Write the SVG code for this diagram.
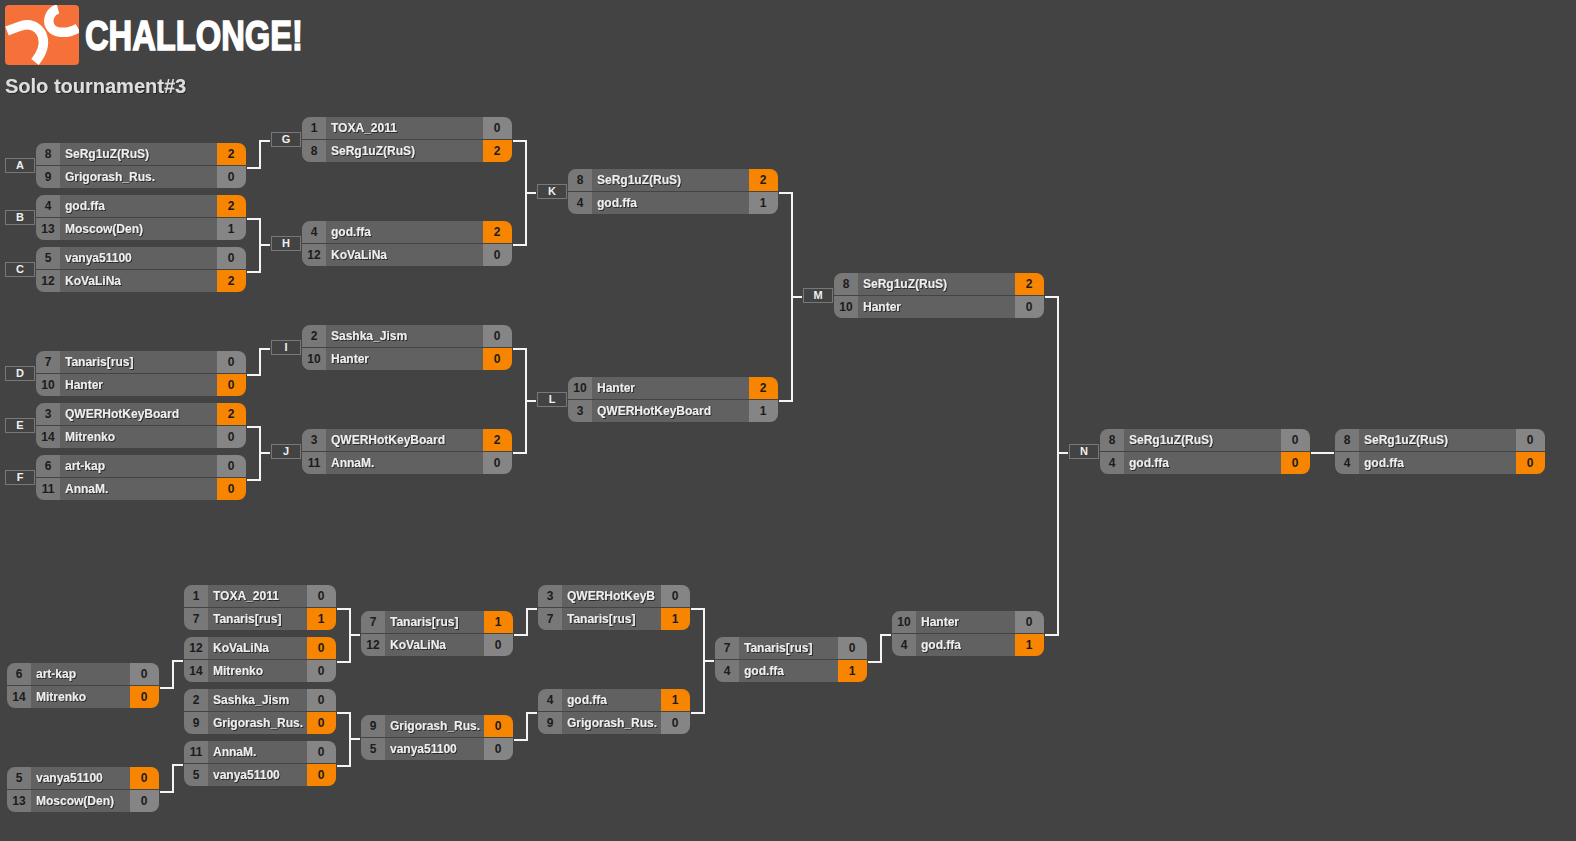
<svg xmlns="http://www.w3.org/2000/svg" width="1576" height="841" viewBox="0 0 1576 841">
<style>
text{font-family:"Liberation Sans",Arial,sans-serif;font-weight:700;font-size:12px}
.seed{text-anchor:middle;fill:#1c1c1c}
.name{fill:#eee;filter:url(#sh)}
.score{text-anchor:middle;fill:#1c1c1c}
.w{fill:#f78500}
.l{fill:#858585}
.lab{fill:none;stroke:#787878;stroke-width:1}
.labt{text-anchor:middle;fill:#f0f0f0;font-size:11px}
#connectors path{fill:none;stroke:#f4f4f4;stroke-width:2}
#logotype{font-size:43px;fill:#fff;stroke:#fff;stroke-width:1.6}
</style>
<defs>
<filter id="sh" x="-5%" y="-20%" width="110%" height="150%"><feDropShadow dx="1" dy="1" stdDeviation="0.4" flood-color="#222" flood-opacity="0.9"/></filter>
<clipPath id="logoClip"><rect x="5" y="5" width="74" height="60" rx="4"/></clipPath>
<g id="big"><path fill="#616161" d="M24 0H202V45H24Z"/><path fill="#787878" d="M8 0H24V22H0V8A8 8 0 0 1 8 0ZM0 23H24V45H8A8 8 0 0 1 0 37Z"/><rect x="0" y="22" width="210" height="1" fill="#444"/></g>
<path id="bigT" d="M181 0H202A8 8 0 0 1 210 8V22H181Z"/>
<path id="bigB" d="M181 23H210V37A8 8 0 0 1 202 45H181Z"/>
<g id="small"><path fill="#616161" d="M24 0H144V45H24Z"/><path fill="#787878" d="M8 0H24V22H0V8A8 8 0 0 1 8 0ZM0 23H24V45H8A8 8 0 0 1 0 37Z"/><rect x="0" y="22" width="152" height="1" fill="#444"/></g>
<path id="smallT" d="M123 0H144A8 8 0 0 1 152 8V22H123Z"/>
<path id="smallB" d="M123 23H152V37A8 8 0 0 1 144 45H123Z"/>
</defs>
<rect width="1576" height="841" fill="#434343"/>
<g id="logo">
<rect x="5" y="5" width="74" height="60" rx="4" fill="#f6703a"/>
<g clip-path="url(#logoClip)" fill="none" stroke="#fff" stroke-width="9.5">
<path d="M7 31C17 27 24 24 30 25C41 27 51 42 35 62"/>
<path d="M58 9C50 11 47 20 50 26C53 33 66 35 78 28"/>
</g>
<text id="logotype" x="85" y="50" textLength="218" lengthAdjust="spacingAndGlyphs">CHALLONGE!</text>
</g>
<text id="title" x="5" y="93" style="font-size:20px;fill:#ddd;filter:url(#sh)">Solo tournament#3</text>
<g id="connectors">
<path d="M247 168H260V141H270"/>
<path d="M247 219H260V272H247M260 245H270"/>
<path d="M247 375H260V349H270"/>
<path d="M247 427H260V480H247M260 453H270"/>
<path d="M513 141H526V245H513M526 193H536"/>
<path d="M513 349H526V453H513M526 401H536"/>
<path d="M779 193H792V401H779M792 297H802"/>
<path d="M1045 297H1058V635H1045M1058 453H1068"/>
<path d="M1311 453H1334"/>
<path d="M160 688H173V661H183"/>
<path d="M160 792H173V765H183"/>
<path d="M337 609H350V662H337M350 635H360"/>
<path d="M337 713H350V766H337M350 739H360"/>
<path d="M514 635H527V609H537"/>
<path d="M514 740H527V713H537"/>
<path d="M691 609H704V713H691M704 661H714"/>
<path d="M868 662H881V635H891"/>
</g>
<g id="match-A" transform="translate(36,143)"><rect class="lab" x="-30.5" y="15.5" width="29" height="14"/><text class="labt" x="-16" y="26">A</text><use href="#big"/><use href="#bigT" class="w"/><use href="#bigB" class="l"/><text class="seed" x="12" y="15">8</text><text class="name" x="29" y="15">SeRg1uZ(RuS)</text><text class="score" x="195" y="15">2</text><text class="seed" x="12" y="38">9</text><text class="name" x="29" y="38">Grigorash_Rus.</text><text class="score" x="195" y="38">0</text></g>
<g id="match-B" transform="translate(36,195)"><rect class="lab" x="-30.5" y="15.5" width="29" height="14"/><text class="labt" x="-16" y="26">B</text><use href="#big"/><use href="#bigT" class="w"/><use href="#bigB" class="l"/><text class="seed" x="12" y="15">4</text><text class="name" x="29" y="15">god.ffa</text><text class="score" x="195" y="15">2</text><text class="seed" x="12" y="38">13</text><text class="name" x="29" y="38">Moscow(Den)</text><text class="score" x="195" y="38">1</text></g>
<g id="match-C" transform="translate(36,247)"><rect class="lab" x="-30.5" y="15.5" width="29" height="14"/><text class="labt" x="-16" y="26">C</text><use href="#big"/><use href="#bigT" class="l"/><use href="#bigB" class="w"/><text class="seed" x="12" y="15">5</text><text class="name" x="29" y="15">vanya51100</text><text class="score" x="195" y="15">0</text><text class="seed" x="12" y="38">12</text><text class="name" x="29" y="38">KoVaLiNa</text><text class="score" x="195" y="38">2</text></g>
<g id="match-D" transform="translate(36,351)"><rect class="lab" x="-30.5" y="15.5" width="29" height="14"/><text class="labt" x="-16" y="26">D</text><use href="#big"/><use href="#bigT" class="l"/><use href="#bigB" class="w"/><text class="seed" x="12" y="15">7</text><text class="name" x="29" y="15">Tanaris[rus]</text><text class="score" x="195" y="15">0</text><text class="seed" x="12" y="38">10</text><text class="name" x="29" y="38">Hanter</text><text class="score" x="195" y="38">0</text></g>
<g id="match-E" transform="translate(36,403)"><rect class="lab" x="-30.5" y="15.5" width="29" height="14"/><text class="labt" x="-16" y="26">E</text><use href="#big"/><use href="#bigT" class="w"/><use href="#bigB" class="l"/><text class="seed" x="12" y="15">3</text><text class="name" x="29" y="15">QWERHotKeyBoard</text><text class="score" x="195" y="15">2</text><text class="seed" x="12" y="38">14</text><text class="name" x="29" y="38">Mitrenko</text><text class="score" x="195" y="38">0</text></g>
<g id="match-F" transform="translate(36,455)"><rect class="lab" x="-30.5" y="15.5" width="29" height="14"/><text class="labt" x="-16" y="26">F</text><use href="#big"/><use href="#bigT" class="l"/><use href="#bigB" class="w"/><text class="seed" x="12" y="15">6</text><text class="name" x="29" y="15">art-kap</text><text class="score" x="195" y="15">0</text><text class="seed" x="12" y="38">11</text><text class="name" x="29" y="38">AnnaM.</text><text class="score" x="195" y="38">0</text></g>
<g id="match-G" transform="translate(302,117)"><rect class="lab" x="-30.5" y="15.5" width="29" height="14"/><text class="labt" x="-16" y="26">G</text><use href="#big"/><use href="#bigT" class="l"/><use href="#bigB" class="w"/><text class="seed" x="12" y="15">1</text><text class="name" x="29" y="15">TOXA_2011</text><text class="score" x="195" y="15">0</text><text class="seed" x="12" y="38">8</text><text class="name" x="29" y="38">SeRg1uZ(RuS)</text><text class="score" x="195" y="38">2</text></g>
<g id="match-H" transform="translate(302,221)"><rect class="lab" x="-30.5" y="15.5" width="29" height="14"/><text class="labt" x="-16" y="26">H</text><use href="#big"/><use href="#bigT" class="w"/><use href="#bigB" class="l"/><text class="seed" x="12" y="15">4</text><text class="name" x="29" y="15">god.ffa</text><text class="score" x="195" y="15">2</text><text class="seed" x="12" y="38">12</text><text class="name" x="29" y="38">KoVaLiNa</text><text class="score" x="195" y="38">0</text></g>
<g id="match-I" transform="translate(302,325)"><rect class="lab" x="-30.5" y="15.5" width="29" height="14"/><text class="labt" x="-16" y="26">I</text><use href="#big"/><use href="#bigT" class="l"/><use href="#bigB" class="w"/><text class="seed" x="12" y="15">2</text><text class="name" x="29" y="15">Sashka_Jism</text><text class="score" x="195" y="15">0</text><text class="seed" x="12" y="38">10</text><text class="name" x="29" y="38">Hanter</text><text class="score" x="195" y="38">0</text></g>
<g id="match-J" transform="translate(302,429)"><rect class="lab" x="-30.5" y="15.5" width="29" height="14"/><text class="labt" x="-16" y="26">J</text><use href="#big"/><use href="#bigT" class="w"/><use href="#bigB" class="l"/><text class="seed" x="12" y="15">3</text><text class="name" x="29" y="15">QWERHotKeyBoard</text><text class="score" x="195" y="15">2</text><text class="seed" x="12" y="38">11</text><text class="name" x="29" y="38">AnnaM.</text><text class="score" x="195" y="38">0</text></g>
<g id="match-K" transform="translate(568,169)"><rect class="lab" x="-30.5" y="15.5" width="29" height="14"/><text class="labt" x="-16" y="26">K</text><use href="#big"/><use href="#bigT" class="w"/><use href="#bigB" class="l"/><text class="seed" x="12" y="15">8</text><text class="name" x="29" y="15">SeRg1uZ(RuS)</text><text class="score" x="195" y="15">2</text><text class="seed" x="12" y="38">4</text><text class="name" x="29" y="38">god.ffa</text><text class="score" x="195" y="38">1</text></g>
<g id="match-L" transform="translate(568,377)"><rect class="lab" x="-30.5" y="15.5" width="29" height="14"/><text class="labt" x="-16" y="26">L</text><use href="#big"/><use href="#bigT" class="w"/><use href="#bigB" class="l"/><text class="seed" x="12" y="15">10</text><text class="name" x="29" y="15">Hanter</text><text class="score" x="195" y="15">2</text><text class="seed" x="12" y="38">3</text><text class="name" x="29" y="38">QWERHotKeyBoard</text><text class="score" x="195" y="38">1</text></g>
<g id="match-M" transform="translate(834,273)"><rect class="lab" x="-30.5" y="15.5" width="29" height="14"/><text class="labt" x="-16" y="26">M</text><use href="#big"/><use href="#bigT" class="w"/><use href="#bigB" class="l"/><text class="seed" x="12" y="15">8</text><text class="name" x="29" y="15">SeRg1uZ(RuS)</text><text class="score" x="195" y="15">2</text><text class="seed" x="12" y="38">10</text><text class="name" x="29" y="38">Hanter</text><text class="score" x="195" y="38">0</text></g>
<g id="match-N" transform="translate(1100,429)"><rect class="lab" x="-30.5" y="15.5" width="29" height="14"/><text class="labt" x="-16" y="26">N</text><use href="#big"/><use href="#bigT" class="l"/><use href="#bigB" class="w"/><text class="seed" x="12" y="15">8</text><text class="name" x="29" y="15">SeRg1uZ(RuS)</text><text class="score" x="195" y="15">0</text><text class="seed" x="12" y="38">4</text><text class="name" x="29" y="38">god.ffa</text><text class="score" x="195" y="38">0</text></g>
<g id="match-final" transform="translate(1335,429)"><use href="#big"/><use href="#bigT" class="l"/><use href="#bigB" class="w"/><text class="seed" x="12" y="15">8</text><text class="name" x="29" y="15">SeRg1uZ(RuS)</text><text class="score" x="195" y="15">0</text><text class="seed" x="12" y="38">4</text><text class="name" x="29" y="38">god.ffa</text><text class="score" x="195" y="38">0</text></g>
<g id="lb-1" transform="translate(7,663)"><use href="#small"/><use href="#smallT" class="l"/><use href="#smallB" class="w"/><text class="seed" x="12" y="15">6</text><text class="name" x="29" y="15">art-kap</text><text class="score" x="137" y="15">0</text><text class="seed" x="12" y="38">14</text><text class="name" x="29" y="38">Mitrenko</text><text class="score" x="137" y="38">0</text></g>
<g id="lb-2" transform="translate(7,767)"><use href="#small"/><use href="#smallT" class="w"/><use href="#smallB" class="l"/><text class="seed" x="12" y="15">5</text><text class="name" x="29" y="15">vanya51100</text><text class="score" x="137" y="15">0</text><text class="seed" x="12" y="38">13</text><text class="name" x="29" y="38">Moscow(Den)</text><text class="score" x="137" y="38">0</text></g>
<g id="lb-3" transform="translate(184,585)"><use href="#small"/><use href="#smallT" class="l"/><use href="#smallB" class="w"/><text class="seed" x="12" y="15">1</text><text class="name" x="29" y="15">TOXA_2011</text><text class="score" x="137" y="15">0</text><text class="seed" x="12" y="38">7</text><text class="name" x="29" y="38">Tanaris[rus]</text><text class="score" x="137" y="38">1</text></g>
<g id="lb-4" transform="translate(184,637)"><use href="#small"/><use href="#smallT" class="w"/><use href="#smallB" class="l"/><text class="seed" x="12" y="15">12</text><text class="name" x="29" y="15">KoVaLiNa</text><text class="score" x="137" y="15">0</text><text class="seed" x="12" y="38">14</text><text class="name" x="29" y="38">Mitrenko</text><text class="score" x="137" y="38">0</text></g>
<g id="lb-5" transform="translate(184,689)"><use href="#small"/><use href="#smallT" class="l"/><use href="#smallB" class="w"/><text class="seed" x="12" y="15">2</text><text class="name" x="29" y="15">Sashka_Jism</text><text class="score" x="137" y="15">0</text><text class="seed" x="12" y="38">9</text><text class="name" x="29" y="38">Grigorash_Rus.</text><text class="score" x="137" y="38">0</text></g>
<g id="lb-6" transform="translate(184,741)"><use href="#small"/><use href="#smallT" class="l"/><use href="#smallB" class="w"/><text class="seed" x="12" y="15">11</text><text class="name" x="29" y="15">AnnaM.</text><text class="score" x="137" y="15">0</text><text class="seed" x="12" y="38">5</text><text class="name" x="29" y="38">vanya51100</text><text class="score" x="137" y="38">0</text></g>
<g id="lb-7" transform="translate(361,611)"><use href="#small"/><use href="#smallT" class="w"/><use href="#smallB" class="l"/><text class="seed" x="12" y="15">7</text><text class="name" x="29" y="15">Tanaris[rus]</text><text class="score" x="137" y="15">1</text><text class="seed" x="12" y="38">12</text><text class="name" x="29" y="38">KoVaLiNa</text><text class="score" x="137" y="38">0</text></g>
<g id="lb-8" transform="translate(361,715)"><use href="#small"/><use href="#smallT" class="w"/><use href="#smallB" class="l"/><text class="seed" x="12" y="15">9</text><text class="name" x="29" y="15">Grigorash_Rus.</text><text class="score" x="137" y="15">0</text><text class="seed" x="12" y="38">5</text><text class="name" x="29" y="38">vanya51100</text><text class="score" x="137" y="38">0</text></g>
<g id="lb-9" transform="translate(538,585)"><use href="#small"/><use href="#smallT" class="l"/><use href="#smallB" class="w"/><text class="seed" x="12" y="15">3</text><text class="name" x="29" y="15">QWERHotKeyB</text><text class="score" x="137" y="15">0</text><text class="seed" x="12" y="38">7</text><text class="name" x="29" y="38">Tanaris[rus]</text><text class="score" x="137" y="38">1</text></g>
<g id="lb-10" transform="translate(538,689)"><use href="#small"/><use href="#smallT" class="w"/><use href="#smallB" class="l"/><text class="seed" x="12" y="15">4</text><text class="name" x="29" y="15">god.ffa</text><text class="score" x="137" y="15">1</text><text class="seed" x="12" y="38">9</text><text class="name" x="29" y="38">Grigorash_Rus.</text><text class="score" x="137" y="38">0</text></g>
<g id="lb-11" transform="translate(715,637)"><use href="#small"/><use href="#smallT" class="l"/><use href="#smallB" class="w"/><text class="seed" x="12" y="15">7</text><text class="name" x="29" y="15">Tanaris[rus]</text><text class="score" x="137" y="15">0</text><text class="seed" x="12" y="38">4</text><text class="name" x="29" y="38">god.ffa</text><text class="score" x="137" y="38">1</text></g>
<g id="lb-12" transform="translate(892,611)"><use href="#small"/><use href="#smallT" class="l"/><use href="#smallB" class="w"/><text class="seed" x="12" y="15">10</text><text class="name" x="29" y="15">Hanter</text><text class="score" x="137" y="15">0</text><text class="seed" x="12" y="38">4</text><text class="name" x="29" y="38">god.ffa</text><text class="score" x="137" y="38">1</text></g>
</svg>
